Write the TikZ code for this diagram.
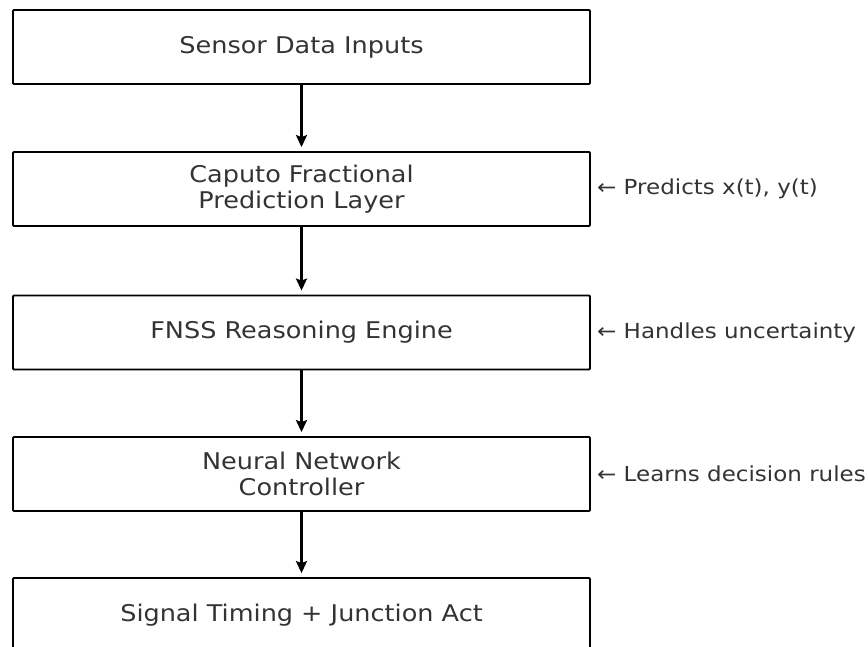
\documentclass[tikz,border=0pt]{standalone}
\usepackage{fontspec}
\setmainfont[FakeStretch=1.11]{DejaVu Sans}
\usetikzlibrary{arrows.meta}
\definecolor{txt}{HTML}{333333}
\begin{document}
\begin{tikzpicture}[x=1pt,y=-1pt,
  stagebox/.style={draw=black,line width=1.8pt,rounded corners=1pt,minimum width=577pt,minimum height=74pt,
    align=center,text=txt,font=\fontsize{23}{26}\selectfont,inner sep=0pt},
  flow/.style={-{Stealth[length=12pt,width=11pt,inset=2pt]},line width=2.6pt,black,shorten >=4pt},
  note/.style={anchor=west,text=txt,font=\fontsize{20.7}{24}\selectfont,inner sep=0pt}]
\useasboundingbox (0,0) rectangle (868,647);
\node[stagebox] (b1) at (301.5,47) {Sensor Data Inputs};
\node[stagebox] (b2) at (301.5,189) {Caputo Fractional\\Prediction Layer};
\node[stagebox] (b3) at (301.5,332.5) {FNSS Reasoning Engine};
\node[stagebox] (b4) at (301.5,474) {Neural Network\\Controller};
\node[stagebox] (b5) at (301.5,615) {Signal Timing + Junction Act};
\draw[flow] (b1) -- (b2);
\draw[flow] (b2) -- (b3);
\draw[flow] (b3) -- (b4);
\draw[flow] (b4) -- (b5);
\node[note] (n2) at (597,189) {← Predicts x(t), y(t)};
\node[note] (n3) at (597,332.5) {← Handles uncertainty};
\node[note] (n4) at (597,474) {← Learns decision rules};
\end{tikzpicture}
\end{document}
